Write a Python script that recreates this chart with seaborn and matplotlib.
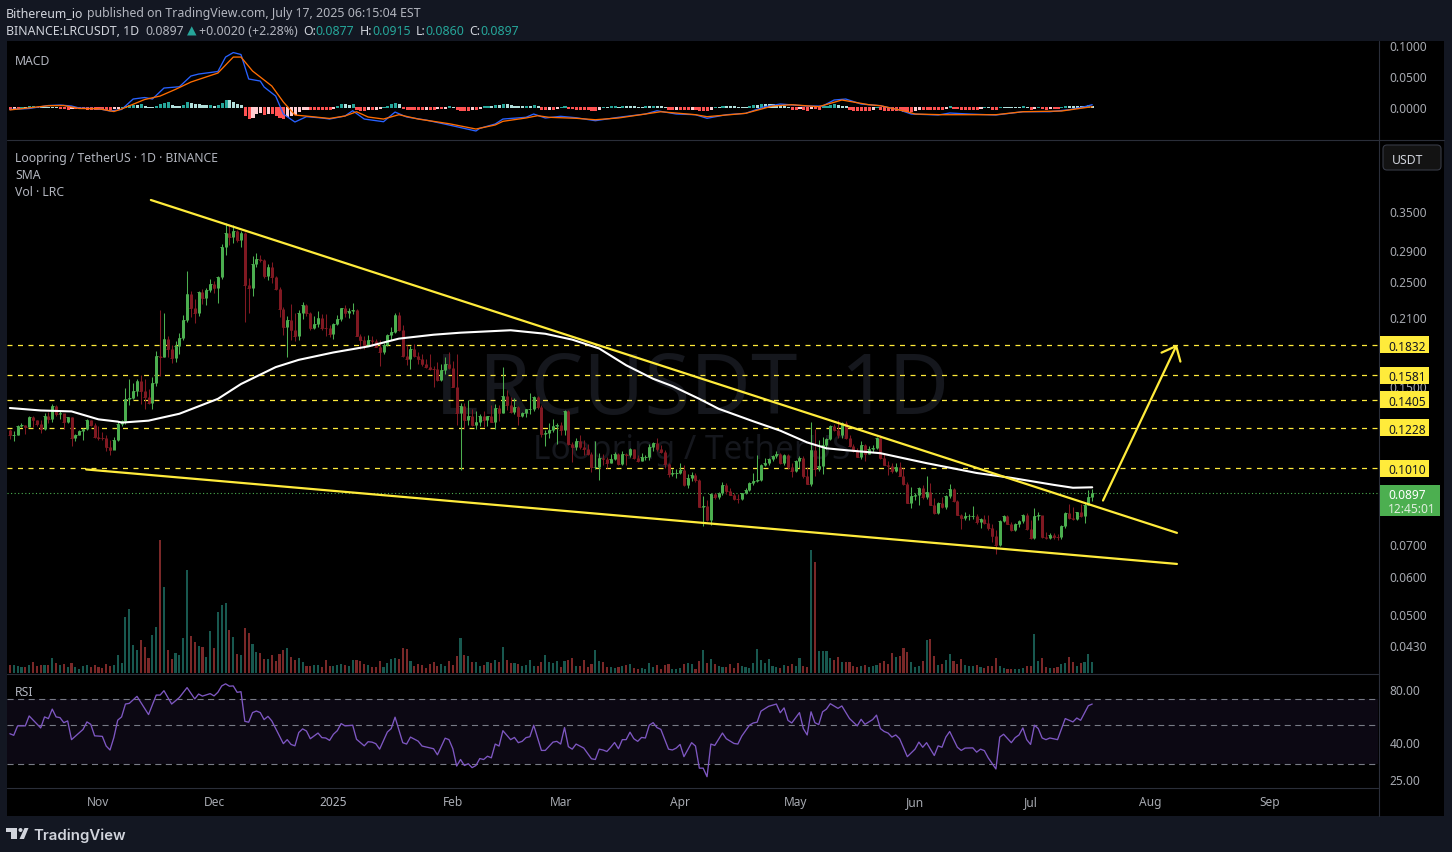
#!/usr/bin/env python3
"""
LRC/USDT daily chart with MACD, volume and RSI panes
"""

import matplotlib
matplotlib.use("Agg")
import matplotlib.pyplot as plt
import seaborn as sns
import numpy as np
import pandas as pd
from matplotlib.patches import Rectangle, Polygon, Circle, FancyBboxPatch
from matplotlib.ticker import NullLocator
from matplotlib.transforms import IdentityTransform

# Candles, one a day from 2024-10-09, open = previous close
first_day = "2024-10-09"
first_open = 0.1217
closes = [
    .1184, .1188, .1241, .1244, .1235, .1295, .1273, .1253, .1223, .1302,
    .1283, .1363, .1314, .1316, .1265, .1291, .1166, .1188, .1207, .1223,
    .1273, .1247, .1177, .1171, .1169, .1117, .1102, .1156, .1253, .1271,
    .1412, .1416, .1469, .1537, .1469, .1425, .1385, .1524, .1734, .1730,
    .1889, .1793, .1717, .1821, .1898, .2068, .2341, .2193, .2138, .2363,
    .2297, .2394, .2455, .2409, .2550, .2942, .3145, .3085, .3175, .3042,
    .3149, .2443, .2409, .2713, .2778, .2756, .2562, .2675, .2550, .2397,
    .2180, .2003, .2068, .1965, .1916, .2142, .2221, .2138, .1991, .2029,
    .2091, .1991, .1986, .1934, .2029, .2078, .2190, .2138, .2159, .2169,
    .1916, .1874, .1830, .1880, .1871, .1812, .1767, .1836, .1925, .1953,
    .2118, .1965, .1736, .1709, .1801, .1733, .1709, .1669, .1646, .1630,
    .1628, .1547, .1623, .1669, .1638, .1495, .1320, .1367, .1277, .1302,
    .1243, .1265, .1302, .1277, .1298, .1265, .1352, .1316, .1435, .1372,
    .1327, .1359, .1302, .1316, .1342, .1344, .1425, .1359, .1194, .1200,
    .1217, .1241, .1247, .1217, .1329, .1134, .1117, .1150, .1117, .1108,
    .1081, .1016, .1018, .1060, .1055, .1035, .1056, .1082, .1030, .1081,
    .1077, .1107, .1060, .1045, .1065, .1066, .1117, .1139, .1107, .1094,
    .1030, .0982, .0985, .0987, .1001, .0932, .0964, .0979, .0953, .0839,
    .0840, .0786, .0890, .0877, .0894, .0931, .0906, .0887, .0870, .0869,
    .0894, .0911, .0941, .0951, .0953, .1027, .1035, .1055, .1070, .1081,
    .1035, .1077, .1016, .0997, .1045, .1060, .0973, .0938, .1103, .1006,
    .1023, .1128, .1162, .1239, .1213, .1188, .1259, .1170, .1127, .1096,
    .1065, .1128, .1081, .1108, .1115, .1166, .1060, .1027, .1019, .0995,
    .1016, .0975, .0937, .0853, .0881, .0888, .0919, .0877, .0900, .0847,
    .0812, .0852, .0836, .0881, .0912, .0864, .0806, .0793, .0800, .0801,
    .0802, .0778, .0789, .0775, .0757, .0727, .0698, .0783, .0803, .0772,
    .0748, .0772, .0781, .0806, .0752, .0722, .0801, .0807, .0723, .0720,
    .0733, .0725, .0723, .0764, .0812, .0793, .0790, .0816, .0800, .0847,
    .0880, .0897,
]
highs = [
    .1223, .1211, .1247, .1256, .1247, .1302, .1302, .1277, .1277, .1320,
    .1327, .1378, .1372, .1335, .1314, .1295, .1295, .1194, .1217, .1229,
    .1283, .1277, .1259, .1241, .1206, .1183, .1160, .1177, .1271, .1277,
    .1488, .1554, .1524, .1554, .1584, .1554, .1481, .1569, .1776, .2169,
    .2138, .1910, .1836, .1865, .1944, .2118, .2624, .2375, .2286, .2375,
    .2397, .2417, .2514, .2494, .2562, .2979, .3302, .3252, .3268, .3190,
    .3175, .3164, .2526, .2819, .2859, .2833, .2778, .2713, .2730, .2562,
    .2421, .2203, .2108, .2232, .2138, .2169, .2254, .2232, .2151, .2108,
    .2155, .2128, .2128, .2019, .2039, .2118, .2193, .2221, .2190, .2243,
    .2180, .1934, .1910, .1925, .1916, .1889, .1880, .1854, .1930, .2003,
    .2142, .2149, .2019, .1836, .1827, .1845, .1767, .1758, .1709, .1750,
    .1655, .1685, .1669, .1725, .1767, .1693, .1758, .1385, .1385, .1407,
    .1346, .1333, .1314, .1333, .1302, .1372, .1378, .1374, .1646, .1475,
    .1425, .1419, .1361, .1327, .1346, .1454, .1432, .1432, .1372, .1213,
    .1259, .1283, .1259, .1265, .1335, .1335, .1144, .1171, .1183, .1156,
    .1134, .1091, .1150, .1086, .1082, .1065, .1081, .1091, .1086, .1096,
    .1086, .1112, .1108, .1076, .1086, .1077, .1134, .1144, .1166, .1130,
    .1103, .1035, .1006, .1006, .1035, .1025, .0982, .0992, .0987, .0959,
    .0881, .0865, .0894, .0894, .0902, .0946, .0941, .0919, .0894, .0890,
    .0898, .0919, .0946, .0987, .1077, .1030, .1060, .1060, .1076, .1100,
    .1086, .1081, .1081, .1035, .1052, .1070, .1070, .1016, .1265, .1223,
    .1155, .1177, .1166, .1247, .1253, .1273, .1265, .1267, .1183, .1134,
    .1112, .1154, .1134, .1123, .1130, .1177, .1188, .1081, .1048, .1035,
    .1035, .1040, .1011, .0946, .0924, .0898, .0924, .0932, .0973, .0941,
    .0874, .0856, .0877, .0886, .0937, .0916, .0867, .0810, .0816, .0810,
    .0840, .0808, .0794, .0805, .0805, .0771, .0749, .0786, .0806, .0805,
    .0778, .0774, .0786, .0810, .0812, .0786, .0832, .0816, .0789, .0742,
    .0739, .0739, .0736, .0769, .0816, .0848, .0836, .0818, .0850, .0852,
    .0909, .0915,
]
lows = [
    .1162, .1154, .1183, .1235, .1194, .1235, .1235, .1241, .1200, .1217,
    .1259, .1265, .1302, .1283, .1223, .1259, .1123, .1150, .1183, .1160,
    .1217, .1241, .1166, .1160, .1160, .1096, .1076, .1107, .1150, .1241,
    .1253, .1374, .1412, .1435, .1378, .1346, .1378, .1342, .1504, .1578,
    .1725, .1725, .1677, .1688, .1750, .1874, .2051, .2101, .2041, .2108,
    .2232, .2221, .2367, .2352, .2246, .2514, .2833, .2970, .3003, .3014,
    .2942, .2051, .2142, .2322, .2666, .2730, .2526, .2502, .2470, .2386,
    .2101, .1925, .1727, .1874, .1871, .1874, .2078, .2108, .1965, .1981,
    .2000, .1965, .1910, .1907, .1889, .2019, .2061, .2101, .2088, .2128,
    .1912, .1793, .1801, .1821, .1821, .1810, .1655, .1758, .1821, .1874,
    .1944, .1957, .1725, .1661, .1630, .1730, .1669, .1655, .1638, .1626,
    .1495, .1539, .1539, .1591, .1630, .1493, .1243, .1003, .1223, .1247,
    .1241, .1223, .1241, .1235, .1241, .1262, .1219, .1271, .1316, .1340,
    .1320, .1314, .1247, .1295, .1295, .1314, .1333, .1346, .1177, .1125,
    .1171, .1206, .1134, .1188, .1188, .1128, .1040, .1103, .1107, .1077,
    .1076, .0992, .1008, .0955, .1025, .1011, .1035, .1052, .1025, .1027,
    .1027, .1065, .1058, .1040, .1045, .1052, .1052, .1096, .1096, .1086,
    .1011, .0969, .0973, .0964, .0982, .0928, .0919, .0950, .0946, .0836,
    .0765, .0782, .0767, .0870, .0870, .0887, .0890, .0886, .0867, .0852,
    .0865, .0890, .0906, .0932, .0946, .0950, .1021, .1025, .1045, .1060,
    .1030, .1025, .1008, .0969, .0992, .1011, .0964, .0937, .0925, .0973,
    .0997, .0982, .1107, .1155, .1207, .1166, .1171, .1162, .1117, .1091,
    .1064, .1056, .1045, .1081, .1091, .1108, .1056, .1025, .0979, .0987,
    .0992, .0973, .0932, .0852, .0833, .0865, .0844, .0870, .0870, .0845,
    .0810, .0809, .0832, .0829, .0874, .0856, .0804, .0754, .0786, .0786,
    .0791, .0772, .0757, .0772, .0750, .0708, .0666, .0694, .0778, .0771,
    .0746, .0746, .0760, .0774, .0749, .0719, .0719, .0786, .0722, .0719,
    .0718, .0719, .0714, .0717, .0757, .0791, .0788, .0786, .0797, .0775,
    .0844, .0860,
]
# Volume, arbitrary units
volumes = [
    24, 24, 20, 18, 18, 24, 33, 21, 24, 24, 24, 45, 30, 24, 27, 18, 30, 18, 12, 21,
    24, 18, 24, 18, 15, 27, 21, 24, 54, 30, 168, 192, 84, 69, 99, 78, 45, 114, 138, 399,
    258, 69, 42, 60, 54, 105, 309, 111, 93, 81, 78, 48, 126, 75, 183, 204, 210, 129, 108, 57,
    54, 135, 120, 87, 63, 60, 42, 42, 54, 36, 57, 69, 75, 48, 39, 45, 33, 21, 21, 24,
    24, 18, 39, 21, 21, 24, 27, 24, 21, 39, 39, 36, 27, 24, 18, 18, 36, 18, 30, 42,
    45, 42, 75, 72, 36, 21, 27, 24, 15, 27, 33, 21, 27, 21, 36, 24, 51, 105, 54, 51,
    33, 33, 21, 24, 33, 30, 39, 33,
    78, 39, 30, 30, 27, 21, 24, 39, 21, 21, 33, 54, 33, 30, 36, 18, 36, 39, 45, 21,
    21, 39, 18, 27, 69, 36, 33, 18, 18, 15, 18, 21, 24, 27, 15, 12, 15, 12, 30, 18,
    24, 12, 24, 27, 12, 12, 15, 27, 30, 27, 12, 36, 69, 30, 42, 27, 21, 18, 18, 27,
    15, 30, 21, 18, 15, 30, 72, 39, 30, 42, 21, 18, 15, 24, 21, 27, 21, 45, 21, 18,
    369, 333, 66, 66, 66, 45, 39, 48, 33, 33, 33, 21, 18, 21, 24, 18, 21, 24, 30, 36,
    27, 60, 48, 51, 75, 63, 33, 18, 21, 36, 99, 102, 51, 24, 27, 39, 57, 36, 27, 42,
    24, 21, 21, 24, 18, 15, 21, 21, 45, 21, 15, 12, 12, 12, 12, 15, 21, 21, 117, 36,
    45, 18, 15, 15, 18, 27, 30, 48, 33, 21, 30, 33, 57, 33,
]

# SMA, read at the bends of the curve
sma_days = [0, 8, 16, 23, 28, 29, 36, 44, 54, 60, 69, 75, 84, 93, 101, 110, 117, 130, 139,
            146, 153, 160, 167, 172, 179, 184, 193, 200, 207, 212, 217, 226, 238, 251,
            260, 271, 276, 281]
sma_values = [.1351, .1335, .1329, .1279, .1265, .1259, .1271, .1314, .1412, .1517, .1646,
              .1705, .1767, .1819, .1889, .1925, .1944, .1967, .1934, .1880, .1801, .1661,
              .1556, .1502, .1412, .1346, .1267, .1211, .1144, .1112, .1102, .1086, .1035,
              .0987, .0964, .0932, .0919, .0921]

# MACD pane
macd_days = [0, 5, 10, 13, 16, 18, 23, 26, 29, 32, 35, 37, 40, 44, 47, 49, 54, 56, 58, 60,
             62, 65, 66, 69, 71, 74, 77, 81, 83, 87, 89, 92, 97, 100, 103, 108, 114, 121,
             122, 126, 128, 134, 136, 139, 143, 147, 152, 158, 165, 168, 173, 178, 181,
             186, 191, 196, 200, 207, 211, 214, 217, 221, 226, 231, 234, 241, 244, 249,
             256, 263, 270, 275, 279, 281]
macd_values = [-.0040, -.0024, .0024, .0032, .0016, -.0016, -.0027, -.0065, -.0040, .0129,
               .0153, .0129, .0306, .0327, .0500, .0532, .0573, .0806, .0879, .0847, .0452,
               .0419, .0323, .0177, -.0113, -.0242, -.0156, -.0177, -.0194, -.0145, -.0060,
               -.0194, -.0237, -.0081, -.0161, -.0210, -.0290, -.0387, -.0344, -.0274,
               -.0194, -.0166, -.0113, -.0177, -.0150, -.0173, -.0221, -.0166, -.0113,
               -.0060, -.0113, -.0124, -.0182, -.0124, -.0102, .0005, .0048, .0016, .0016,
               .0113, .0129, .0048, .0021, -.0048, -.0113, -.0129, -.0097, -.0113, -.0129,
               -.0076, -.0076, -.0044, .0005, .0037]
signal_days = [0, 10, 14, 18, 23, 27, 29, 35, 39, 43, 47, 54, 58, 60, 63, 68, 71, 74, 78,
               83, 87, 90, 93, 97, 101, 106, 114, 121, 126, 128, 134, 137, 140, 147, 152,
               158, 169, 178, 181, 191, 198, 203, 210, 216, 223, 226, 233, 235, 242, 256,
               263, 273, 281]
signal_values = [-.0047, .0021, .0024, -.0024, -.0027, -.0073, -.0032, .0121, .0177, .0285,
                 .0403, .0548, .0806, .0806, .0581, .0339, .0081, -.0129, -.0153, -.0185,
                 -.0145, -.0076, -.0161, -.0194, -.0124, -.0194, -.0269, -.0355, -.0290,
                 -.0231, -.0177, -.0140, -.0166, -.0182, -.0205, -.0177, -.0076, -.0124,
                 -.0156, -.0102, .0016, .0037, .0005, .0113, .0037, .0021, -.0076, -.0113,
                 -.0124, -.0124, -.0076, -.0065, .0005]
# Histogram, in thousandths
macd_hist = [
    -2.4, -1.6, -1.6, .8, .8, 1.6, 2.4, .8, .8, .8, .8, .8, .8, -.8, -1.6, -2.4, -1.6, -1.6, -1.6, -1.6,
    -2.4, -2.4, -2.4, -2.4, -2.4, -3.2, -3.2, -1.6, -.8, .8, 2.4, 3.2, 4, 4, 5.6, 2.4, .8, .8, 2.4, 4.8,
    7.2, 8, 4, 2.4, 1.6, 4, 8.8, 6.4, 4.8, 4.8, 4, 3.2, 4, 2.4, 3.2, 7.2, 12, 11.2, 8.8, 4.8,
    3.2, -12.8, -17.6, -16, -9.6, -8, -11.2, -9.6, -9.6, -12.8, -16, -17.6, -14.4, -12.8, -11.2, -6.4, -3.2, -2.4, -2.4, -2.4,
    -2.4, -2.4, -2.4, -2.4, -1.6, 1.6, 4.8, 4.8, 4, 4.8, -3.2, -4.8, -4.8, -3.2, -3.2, -2.4, -1.6, .8, 1.6, 4.8,
    6.4, 4.8, -1.6, -3.2, -3.2, -3.2, -3.2, -3.2, -2.4, -2.4, -3.2, -1.6, -1.6, -.8, 1.6, .8, -3.2, -4.8, -4.8, -4.8,
    -3.2, -3.2, -1.6, 1.6, 2.4, 2.4, 3.2, 3.2,
    4.8, 4.8, 3.2, 2.4, 2.4, 1.6, 2.4, 2.4, 3.2, 1.6, -2.4, -4, -3.2, -3.2, -1.6, .8, 1.6, -1.6, -1.6, -2.4,
    -2.4, -2.4, -2.4, -4.8, -4.8, -2.4, .8, .8, 1.6, 2.4, .8, 2.4, 2.4, 2.4, 1.6, .8, .8, 1.6, 1.6, 2.4,
    2.4, 2.4, .8, -3.2, -4, -3.2, -3.2, -3.2, -3.2, -2.4, -2.4, -4.8, -4.8, -4.8, -3.2, .8, .8, 2.4, 2.4, 2.4,
    1.6, .8, .8, .8, 2.4, 3.2, 3.2, 4.8, 4.8, 4.8, 4.8, 3.2, 3.2, 1.6, .8, -3.2, -3.2, -1.6, -3.2, -4.8,
    -1.6, -1.6, -3.2, 1.6, 2.4, 4, 4.8, 3.2, 2.4, 1.6, -3.2, -4.8, -4.8, -4.8, -4.8, -4.8, -3.2, .8, -3.2, -4.8,
    -4.8, -4.8, -4.8, -4.8, -6.4, -6.4, -6.4, -4.8, -3.2, -3.2, -3.2, -3.2, -3.2, -3.2, -3.2, -.8, 1.6, -.8, -1.6, -2.4,
    -2.4, -2.4, -2.4, -2.4, -.8, .8, .8, -2.4, -2.4, .8, .8, .8, .8, .8, .8, 2.4, .8, -2.4, -.8, .8,
    -1.6, -2.4, -1.6, -1.6, -1.6, .8, 2.4, 2.4, 2.4, 2.4, 1.6, 1.6, 3.2, 2.4,
]

# RSI pane
rsi_days = [0, 1, 2, 4, 5, 8, 9, 10, 11, 12, 13, 14, 15, 16, 19, 20, 21, 22, 24, 25, 26, 27, 28, 29,
            30, 31, 33, 36, 38, 39, 40, 42, 44, 46, 48, 49, 50, 52, 53, 54, 55, 56, 57, 58, 59, 60,
            61, 62, 63, 64, 65, 66, 67, 68, 71, 72, 73, 74, 75, 76, 77, 78, 80, 81, 82, 83, 84, 85,
            86, 87, 89, 90, 92, 93, 94, 95, 96, 98, 99, 100, 102, 103, 104, 106, 107, 110, 111, 113,
            114, 115, 116, 117, 118, 119, 120, 121, 122, 123, 124, 125, 126, 127, 128, 130, 131, 132,
            133, 134, 135, 136, 138, 139, 141, 142, 143, 144, 145, 146, 147, 149, 151, 152, 153, 154,
            155, 156, 157, 158, 159, 160, 161, 162, 163, 164, 165, 166, 167, 168, 169, 171, 172, 173,
            174, 175, 177, 178, 179, 180, 181, 182, 183, 185, 186, 188, 189, 190, 192, 193, 194, 195,
            197, 199, 200, 201, 202, 203, 205, 206, 207, 208, 209, 210, 211, 212, 213, 215, 216, 218,
            220, 221, 222, 224, 225, 226, 227, 228, 229, 230, 231, 233, 235, 236, 237, 238, 240, 241,
            242, 243, 244, 246, 247, 248, 250, 251, 252, 253, 254, 256, 257, 258, 260, 261, 262, 263,
            264, 265, 266, 267, 268, 269, 270, 272, 274, 276, 277, 278, 280, 281]
rsi_values = [44.7, 43.8, 49.5, 49.5, 56.3, 48.2, 55.6, 54.4, 61.5, 55.6, 55.1, 51.6, 52.8, 41.4,
              47.3, 52.1, 50.5, 43.5, 43.2, 38.1, 36.2, 42.6, 53.3, 55.6, 65.7, 66.3, 72.6, 57.3,
              73.8, 73.8, 78.1, 65.7, 71.5, 81.3, 70.2, 74.8, 72.8, 75.2, 73.0, 76.5, 83.1, 85.4,
              82.8, 83.1, 76.5, 77.1, 52.5, 51.9, 58.8, 60.0, 58.8, 53.7, 56.0, 52.8, 39.3, 41.4,
              38.9, 38.2, 45.4, 47.6, 46.3, 41.9, 45.1, 42.5, 42.3, 41.0, 44.4, 46.5, 51.0, 49.5,
              49.9, 41.6, 38.2, 40.3, 40.1, 39.3, 36.6, 45.7, 47.8, 55.4, 39.8, 39.1, 42.8, 40.6,
              38.1, 36.8, 34.0, 42.2, 41.4, 36.8, 29.4, 32.0, 29.6, 30.3, 28.8, 29.6, 32.4, 32.0,
              33.4, 32.7, 39.1, 38.1, 46.5, 41.4, 42.6, 39.8, 40.5, 42.5, 43.0, 49.9, 36.0, 36.0,
              40.1, 40.5, 39.1, 48.4, 37.8, 36.6, 39.1, 37.1, 32.3, 32.0, 36.6, 36.2, 35.5, 37.5,
              39.9, 36.8, 41.4, 41.4, 45.6, 41.9, 40.5, 42.6, 42.3, 49.9, 51.6, 48.4, 47.3, 36.6,
              36.2, 37.1, 38.9, 33.2, 39.8, 38.1, 28.6, 28.6, 25.6, 39.1, 38.4, 45.1, 41.9, 39.4,
              39.1, 43.3, 49.9, 51.4, 51.9, 59.9, 63.8, 65.7, 58.7, 62.5, 53.2, 51.4, 58.8, 47.8,
              44.0, 59.4, 51.6, 50.3, 59.4, 61.5, 66.0, 62.1, 64.1, 54.4, 49.5, 53.9, 50.5, 53.7,
              56.9, 47.8, 46.0, 45.1, 42.8, 44.0, 41.9, 33.2, 36.6, 40.1, 37.5, 39.8, 33.7, 38.2,
              37.5, 42.8, 46.0, 37.5, 36.0, 37.1, 37.2, 35.2, 36.6, 35.9, 32.7, 28.3, 42.8, 44.4,
              39.8, 42.5, 44.0, 48.2, 41.4, 38.9, 49.9, 47.8, 42.3, 41.4, 42.3, 41.4, 54.4, 52.1,
              54.8, 53.2, 64.3, 65.7]

# Drawn levels and lines
levels = [0.1832, 0.1581, 0.1405, 0.1228, 0.1010]
last_price = 0.0897
upper_days, upper_prices = [36.6, 303.0], [0.3691, 0.0739]
lower_days, lower_prices = [19.8, 303.0], [0.1004, 0.0636]
arrow_days, arrow_prices = [283.8, 303.0], [0.0864, 0.1836]

# Axis labels
price_ticks = [0.35, 0.29, 0.25, 0.21, 0.15, 0.07, 0.06, 0.05, 0.043]
macd_ticks = [0.1, 0.05, 0.0]
rsi_ticks = [80, 40, 25]
month_starts = ["2024-11-01", "2024-12-01", "2025-01-01", "2025-02-01", "2025-03-01", "2025-04-01",
                "2025-05-01", "2025-06-01", "2025-07-01", "2025-08-01", "2025-09-01"]
month_labels = ["Nov", "Dec", "2025", "Feb", "Mar", "Apr", "May", "Jun", "Jul", "Aug", "Sep"]

W, H = 1452, 853
BG = "#131722"
PANE = "#000000"
TEXT = "#b2b5be"
AXIS_TEXT = "#a6a9b0"
LINE = "#2a2e39"
YELLOW = "#ffeb3b"
UP = "#4caf50"
DOWN = "#801922"
TEAL = "#26a69a"
PRICE_LIM = (0.03755, 0.4932)

sns.set_style("dark")
plt.rcParams['font.family'] = ['Noto Sans', 'DejaVu Sans']
plt.rcParams['axes.unicode_minus'] = False
plt.rcParams['savefig.facecolor'] = BG


def pane(left, top, right, bottom, zorder=1):
    """Axes placed with pixel edges, y measured from the top"""
    ax = fig.add_axes([left / W, 1 - bottom / H, (right - left) / W, (bottom - top) / H], zorder=zorder)
    ax.set_facecolor("none")
    ax.grid(False)
    for side in ax.spines.values():
        side.set_visible(False)
    ax.tick_params(left=False, bottom=False, labelbottom=False, labelleft=False)
    ax.set_xlim(-0.75, 355.2)
    return ax


def right_ticks(ax, ticks, fmt):
    ax.yaxis.set_minor_locator(NullLocator())
    ax.set_yticks(ticks)
    ax.set_yticklabels([fmt % t for t in ticks], fontsize=8.6, color=AXIS_TEXT)
    ax.yaxis.tick_right()
    ax.tick_params(axis='y', which='both', right=False, left=False, labelright=True, labelleft=False, pad=5)


def crisp_bars(ax, edge=0.0):
    """Keep the thin bars solid at this scale"""
    for bar in ax.patches:
        bar.set_antialiased(False)
        if edge:
            bar.set_edgecolor(bar.get_facecolor())
            bar.set_linewidth(edge)


fig = plt.figure(figsize=(W / 100, H / 100), dpi=100, facecolor=BG)
days = np.arange(len(closes))
x_start = pd.Timestamp(first_day)

# Black chart area behind everything
back = fig.add_axes([0, 0, 1, 1], zorder=0)
back.set_xlim(0, W)
back.set_ylim(H, 0)
back.axis("off")
back.add_patch(Rectangle((7, 42), 1437, 775, facecolor=PANE, edgecolor="none"))

closes = np.array(closes)
opens = np.r_[first_open, closes[:-1]]
rising = closes >= opens

# Volume bars sit under the candles in the same pane
ax_vol = pane(7, 141, 1378, 674, zorder=1)
vol_df = pd.DataFrame({"day": days, "volume": volumes, "side": np.where(rising, "up", "down")})
sns.barplot(data=vol_df, x="day", y="volume", hue="side", palette={"up": "#18584f", "down": "#7a2828"},
            native_scale=True, dodge=False, width=0.55, legend=False, ax=ax_vol, saturation=1,
            linewidth=0, edgecolor="none")
crisp_bars(ax_vol)
ax_vol.set_xlim(-0.75, 355.2)
ax_vol.set_ylim(0, 1599)
ax_vol.set_xlabel("")
ax_vol.set_ylabel("")

# Price pane
ax = pane(7, 141, 1378, 674, zorder=2)
ax.set_yscale("log")
ax.set_ylim(*PRICE_LIM)
right_ticks(ax, price_ticks, "%.4f")

# Watermark
ax.text(0.4995, 0.529, "LRCUSDT  1D", transform=ax.transAxes, ha="center", va="center",
        fontsize=60, color="#15171d", zorder=0.5)
ax.text(0.4995, 0.42, "Loopring / TetherUS", transform=ax.transAxes, ha="center", va="center",
        fontsize=24, color="#15171d", zorder=0.5)

# Levels
for level in levels:
    ax.axhline(level, color=YELLOW, lw=0.9, ls=(0, (4, 4.4)), zorder=1)
ax.axhline(last_price, color=UP, lw=0.8, ls=(0, (1, 2.2)), zorder=1)

# Candles
wick_colors = np.where(rising, UP, DOWN)
ax.vlines(days, lows, highs, colors=wick_colors, lw=0.75, zorder=2)
body_low = np.minimum(opens, closes)
body_high = np.maximum(opens, closes)
ax.vlines(days, body_low, body_high, colors=wick_colors, lw=2.15, zorder=2.1,
          capstyle="butt")
ax.hlines(closes, days - 0.37, days + 0.37, colors=wick_colors, lw=0.7, zorder=2.1)

# SMA and drawn trend lines
sns.lineplot(x=sma_days, y=sma_values, color="#ffffff", lw=1.5, estimator=None, ax=ax, zorder=3)
sns.lineplot(x=upper_days, y=upper_prices, color=YELLOW, lw=1.6, estimator=None, ax=ax, zorder=4)
sns.lineplot(x=lower_days, y=lower_prices, color=YELLOW, lw=1.6, estimator=None, ax=ax, zorder=4)
ax.annotate("", xy=(arrow_days[1], arrow_prices[1]), xytext=(arrow_days[0], arrow_prices[0]),
            arrowprops=dict(arrowstyle="->,head_length=0.55,head_width=0.47", color=YELLOW, lw=1.6,
                            shrinkA=0, shrinkB=0, mutation_scale=16), zorder=4)
ax.set_xlim(-0.75, 355.2)
ax.set_ylim(*PRICE_LIM)
ax.set_xlabel("")
ax.set_ylabel("")

# MACD pane
ax_macd = pane(7, 42, 1378, 140, zorder=2)
hist = np.array(macd_hist) / 1000
prev = np.r_[hist[0], hist[:-1]]
shade = np.where(hist >= 0, np.where(hist > prev, "up_strong", "up_weak"),
                 np.where(hist > prev, "down_weak", "down_strong"))
hist_df = pd.DataFrame({"day": days, "hist": hist, "shade": shade})
sns.barplot(data=hist_df, x="day", y="hist", hue="shade", native_scale=True, dodge=False, width=0.55,
            palette={"up_strong": TEAL, "up_weak": "#b2dfdb", "down_weak": "#ffcdd2", "down_strong": "#ff5252"},
            legend=False, ax=ax_macd, saturation=1, linewidth=0, edgecolor="none")
crisp_bars(ax_macd, edge=0.4)
sns.lineplot(x=macd_days, y=macd_values, color="#2962ff", lw=0.95, estimator=None, ax=ax_macd)
sns.lineplot(x=signal_days, y=signal_values, color="#ff6d00", lw=0.95, estimator=None, ax=ax_macd)
ax_macd.set_xlim(-0.75, 355.2)
ax_macd.set_ylim(-0.0516, 0.1065)
ax_macd.set_xlabel("")
ax_macd.set_ylabel("")
right_ticks(ax_macd, macd_ticks, "%.4f")

# RSI pane
ax_rsi = pane(7, 675, 1378, 788, zorder=2)
ax_rsi.set_yscale("log")
ax_rsi.axhspan(30, 70, color="#7e57c2", alpha=0.1, lw=0)
for band in [70, 50, 30]:
    ax_rsi.axhline(band, color="#787b86", lw=0.8, ls=(0, (5.5, 4)))
sns.lineplot(x=rsi_days, y=rsi_values, color="#7e57c2", lw=0.95, estimator=None, ax=ax_rsi)
ax_rsi.set_xlim(-0.75, 355.2)
ax_rsi.set_ylim(22.4, 97)
ax_rsi.set_xlabel("")
ax_rsi.set_ylabel("")
right_ticks(ax_rsi, rsi_ticks, "%.2f")
tick_days = [(pd.Timestamp(d) - x_start).days for d in month_starts]
ax_rsi.set_xticks(tick_days)
ax_rsi.set_xticklabels(month_labels, fontsize=8.6, color=AXIS_TEXT)
ax_rsi.tick_params(axis='x', bottom=False, labelbottom=True, pad=2.5)
ax_rsi.get_xticklabels()[2].set_fontweight("semibold")
ax_rsi.get_xticklabels()[2].set_color(TEXT)

# Price labels on the scale
fig.canvas.draw()
for level in levels:
    y_disp = ax.transData.transform((0, level))[1]
    fig.add_artist(Rectangle((1380, y_disp - 8.5), 49, 17, transform=IdentityTransform(),
                             facecolor=YELLOW, edgecolor="none", zorder=6))
    fig.text(1388 / W, y_disp / H, "%.4f" % level, color="#131722", fontsize=8.6, ha="left",
             va="center_baseline", zorder=7)
y_last = ax.transData.transform((0, last_price))[1]
fig.add_artist(Rectangle((1380, y_last - 23), 60, 31, transform=IdentityTransform(),
                         facecolor=UP, edgecolor="none", zorder=6))
fig.text(1388 / W, y_last / H, "%.4f" % last_price, color="#ffffff", fontsize=8.6, fontweight="semibold",
         ha="left", va="center_baseline", zorder=7)
fig.text(1388 / W, (y_last - 14.5) / H, "12:45:01", color="#dfeedd", fontsize=8.6, ha="left",
         va="center_baseline", zorder=7)

# Frame, overlay labels and header drawn in pixels
top = fig.add_axes([0, 0, 1, 1], zorder=5)
top.set_xlim(0, W)
top.set_ylim(H, 0)
top.axis("off")
top.patch.set_alpha(0)
top.add_patch(Rectangle((0, 0), W, 42, facecolor=BG, edgecolor="none"))
top.plot([7, 1444], [140.5, 140.5], color=LINE, lw=0.8)
top.plot([7, 1378], [674.5, 674.5], color=LINE, lw=0.8)
top.plot([7, 1378], [788.5, 788.5], color=LINE, lw=0.8)
top.plot([1378.5, 1378.5], [42, 817], color=LINE, lw=0.8)
top.add_patch(FancyBboxPatch((1383, 146), 58, 25, boxstyle="round,pad=0,rounding_size=4",
                             facecolor="#131313", edgecolor="#363a45", lw=0.8))
top.text(1392, 158.5, "USDT", color="#d1d4dc", fontsize=8.8, va="center_baseline", ha="left", fontweight="semibold")

for txt, yy, weight in [("MACD", 60, "normal"), ("Loopring / TetherUS · 1D · BINANCE", 157, "semibold"),
                        ("SMA", 174, "normal"), ("Vol · LRC", 191, "normal"), ("RSI", 691.5, "normal")]:
    top.text(15, yy, txt, color=TEXT, fontsize=8.8, va="center_baseline", fontweight=weight)


def text_run(x, y, parts):
    """Lay text pieces one after the other"""
    renderer = fig.canvas.get_renderer()
    for txt, color, weight, gap in parts:
        piece = top.text(x, y, txt, color=color, fontsize=8.9, fontweight=weight, va="center_baseline", ha="left")
        x = x + piece.get_window_extent(renderer).width + gap


text_run(6, 12, [("Bithereum_io", "#d1d4dc", "semibold", 4),
                 ("published on TradingView.com, July 17, 2025 06:15:04 EST", TEXT, "normal", 0)])
text_run(6, 29.5, [("BINANCE:LRCUSDT, 1D", "#d1d4dc", "semibold", 6), ("0.0897", TEXT, "normal", 3),
                   ("▲", TEAL, "normal", 3), ("+0.0020 (+2.28%)", TEXT, "normal", 5),
                   ("O:", "#d1d4dc", "semibold", 0), ("0.0877", TEAL, "normal", 5),
                   ("H:", "#d1d4dc", "semibold", 0), ("0.0915", TEAL, "normal", 5),
                   ("L:", "#d1d4dc", "semibold", 0), ("0.0860", TEAL, "normal", 5),
                   ("C:", "#d1d4dc", "semibold", 0), ("0.0897", TEAL, "normal", 0)])

# TradingView mark
top.add_patch(Rectangle((6, 829), 11, 4, facecolor="#d1d4dc", edgecolor="none"))
top.add_patch(Rectangle((11, 833), 6, 7, facecolor="#d1d4dc", edgecolor="none"))
top.add_patch(Circle((20.5, 831), 2, facecolor="#d1d4dc", edgecolor="none"))
top.add_patch(Polygon([(24.5, 829), (28.5, 829), (24, 840), (19.5, 840)], facecolor="#d1d4dc", edgecolor="none"))
top.text(33, 834.5, "TradingView", color="#d1d4dc", fontsize=10.8, fontweight="semibold", va="center_baseline",
         family=["Inter", "DejaVu Sans"])

fig.savefig("out.png", dpi=100, facecolor=BG)
